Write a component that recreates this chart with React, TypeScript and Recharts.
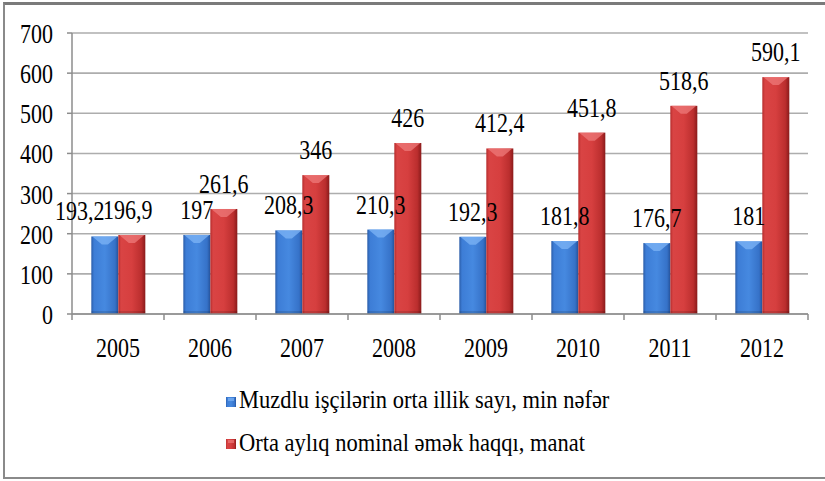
import React from 'react';
import { BarChart, Bar, XAxis, YAxis, CartesianGrid, LabelList } from 'recharts';

const categories = ['2005', '2006', '2007', '2008', '2009', '2010', '2011', '2012'];
const employees = [193.2, 197, 208.3, 210.3, 192.3, 181.8, 176.7, 181];
const wages = [196.9, 261.6, 346, 426, 412.4, 451.8, 518.6, 590.1];
const seriesNames = [
  'Muzdlu işçilərin orta illik sayı, min nəfər',
  'Orta aylıq nominal əmək haqqı, manat',
];
const yTicks = [0, 100, 200, 300, 400, 500, 600, 700];

const data = categories.map((year, i) => ({ year, employees: employees[i], wages: wages[i] }));

const FONT = 'Liberation Serif, Times New Roman, serif';
const TXT: React.CSSProperties = { fontFamily: FONT };
const STRETCH = 1.2;
const W = 825;
const H = 481;
const M = { top: 33, right: 17, left: 12, bottom: 117 };
const Y_W = 60;
const X_H = 50;
const BAND = (W - M.left - Y_W - M.right) / categories.length;
const AXIS = '#8c8c8c';
const GRID = '#adadad';

const fmt = (v: number) => String(v).replace('.', ',');

function YTick(props: any) {
  const { x, y, payload } = props;
  return (
    <g transform={`translate(${x},${y + 10}) scale(1,${STRETCH})`}>
      <text x={0} y={0} textAnchor="end" fontSize={22} style={TXT} fill="#000">
        {payload.value}
      </text>
    </g>
  );
}

function XTick(props: any) {
  const { x, y, payload, index } = props;
  const last = index === categories.length - 1;
  return (
    <g>
      <line x1={x - BAND / 2} x2={x - BAND / 2} y1={y} y2={y + 6} stroke={AXIS} strokeWidth={1.5} />
      {last && <line x1={x + BAND / 2} x2={x + BAND / 2} y1={y} y2={y + 6} stroke={AXIS} strokeWidth={1.5} />}
      <g transform={`translate(${x},${y + 43}) scale(1,${STRETCH})`}>
        <text x={0} y={0} textAnchor="middle" fontSize={22} style={TXT} fill="#000">
          {payload.value}
        </text>
      </g>
    </g>
  );
}

const makeShape = (kind: 'blue' | 'red') => (props: any) => {
  const { x, y, width, height } = props;
  if (!height || height <= 0) return null;
  const hi = kind === 'blue' ? '#7db4f5' : '#ee7a7a';
  return (
    <g>
      <rect x={x} y={y} width={width} height={height} fill={`url(#grad-${kind})`} />
      <polygon
        points={`${x + 1},${y} ${x + width - 1},${y} ${x + width / 2 + 3},${y + 8} ${x + width / 2 - 3},${y + 8}`}
        fill={hi}
        opacity={0.75}
      />
      <rect x={x} y={y + height - 3} width={width} height={3} fill="#000" opacity={0.12} />
    </g>
  );
};

const makeLabel = (kind: 'blue' | 'red') => (props: any) => {
  const { x, y, width, value, index } = props;
  let dx = 0;
  if (index === 0) dx = kind === 'blue' ? -25 : -4;
  return (
    <g transform={`translate(${x + width / 2 + dx},${y - 16}) scale(1,${STRETCH})`}>
      <text x={0} y={0} textAnchor="middle" fontSize={22} style={TXT} fill="#000">
        {fmt(value)}
      </text>
    </g>
  );
};

function Gradients({ prefix }: { prefix: string }) {
  return (
    <defs>
      <linearGradient id={`${prefix}blue`} x1="0" y1="0" x2="1" y2="0">
        <stop offset="0%" stopColor="#2a5ca8" />
        <stop offset="10%" stopColor="#3d7dd6" />
        <stop offset="50%" stopColor="#4689e0" />
        <stop offset="88%" stopColor="#3672c8" />
        <stop offset="100%" stopColor="#25529a" />
      </linearGradient>
      <linearGradient id={`${prefix}red`} x1="0" y1="0" x2="1" y2="0">
        <stop offset="0%" stopColor="#b52c2c" />
        <stop offset="10%" stopColor="#d94444" />
        <stop offset="50%" stopColor="#d63f3f" />
        <stop offset="85%" stopColor="#bb2e2e" />
        <stop offset="100%" stopColor="#8a1b1b" />
      </linearGradient>
    </defs>
  );
}

export default function App() {
  return (
    <div
      style={{
        position: 'fixed',
        left: 0,
        top: 0,
        width: W,
        height: H,
        overflow: 'hidden',
        background: '#fff',
        fontFamily: FONT,
      }}
    >
      <div
        style={{
          position: 'absolute',
          left: 3,
          top: 2,
          width: 900,
          height: 477,
          boxSizing: 'border-box',
          borderTop: '3px solid #7a7a7a',
          borderLeft: '2px solid #8a8a8a',
          borderBottom: '2px solid #8a8a8a',
        }}
      />
      <div style={{ position: 'absolute', left: 0, top: 0 }}>
        <BarChart
          width={W}
          height={H}
          data={data}
          margin={M}
          barCategoryGap="21%"
          barGap={0}
        >
          <Gradients prefix="grad-" />
          <CartesianGrid vertical={false} stroke={GRID} strokeWidth={1.6} />
          <XAxis
            dataKey="year"
            height={X_H}
            axisLine={{ stroke: AXIS, strokeWidth: 1.5 }}
            tickLine={false}
            tickSize={0}
            tickMargin={0}
            tick={<XTick />}
            interval={0}
          />
          <YAxis
            width={Y_W}
            domain={[0, 700]}
            ticks={yTicks}
            interval={0}
            axisLine={{ stroke: AXIS, strokeWidth: 1.5 }}
            tickLine={{ stroke: AXIS, strokeWidth: 1.5 }}
            tickSize={5}
            tickMargin={14}
            tick={<YTick />}
          />
          <Bar dataKey="employees" name={seriesNames[0]} fill="#3d7dd6" shape={makeShape('blue')} isAnimationActive={false}>
            <LabelList dataKey="employees" content={makeLabel('blue')} />
          </Bar>
          <Bar dataKey="wages" name={seriesNames[1]} fill="#d63f3f" shape={makeShape('red')} isAnimationActive={false}>
            <LabelList dataKey="wages" content={makeLabel('red')} />
          </Bar>
        </BarChart>
      </div>
      <svg
        width={W}
        height={H}
        style={{ position: 'absolute', left: 0, top: 0, pointerEvents: 'none' }}
      >
        <Gradients prefix="lg-" />
        <rect x={226} y={397} width={10} height={10} fill="url(#lg-blue)" />
        <rect x={228} y={398} width={6} height={3} fill="#7db4f5" opacity={0.7} />
        <g transform={`translate(239,408) scale(1,1.08)`}>
          <text x={0} y={0} fontSize={22.5} style={TXT} fill="#000">
            {seriesNames[0]}
          </text>
        </g>
        <rect x={226} y={439} width={10} height={10} fill="url(#lg-red)" />
        <rect x={228} y={440} width={6} height={3} fill="#ee7a7a" opacity={0.7} />
        <g transform={`translate(239,451) scale(1,1.08)`}>
          <text x={0} y={0} fontSize={22.5} style={TXT} fill="#000">
            {seriesNames[1]}
          </text>
        </g>
      </svg>
    </div>
  );
}
